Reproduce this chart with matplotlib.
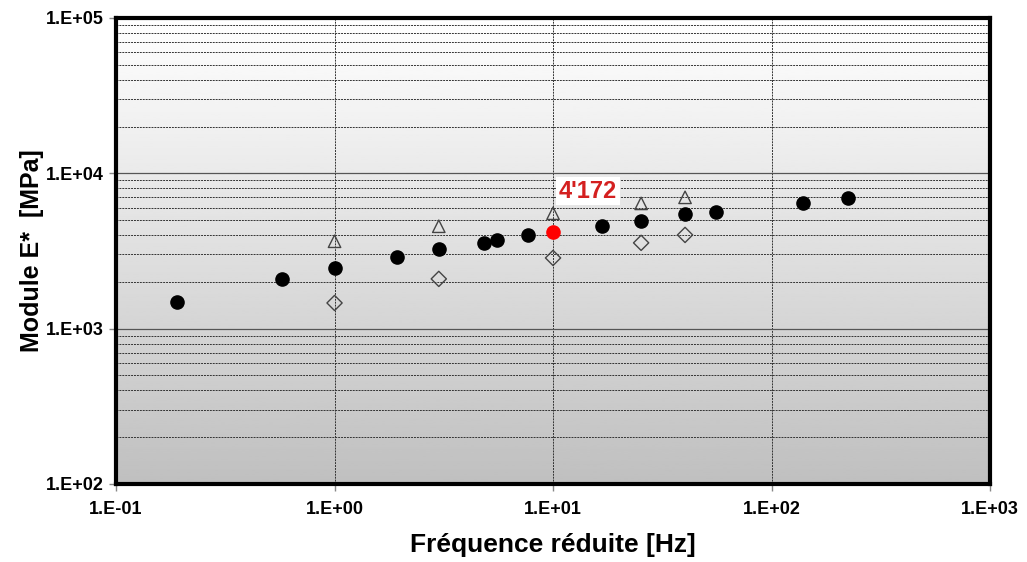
import numpy as np
import matplotlib.pyplot as plt
from matplotlib.ticker import LogLocator, FuncFormatter, NullFormatter

plt.rcParams['font.family'] = ['Liberation Sans', 'DejaVu Sans']

# data
freq_mes = [0.19, 0.575, 1.0, 1.93, 3.0, 4.83, 5.55, 7.69, 16.7, 25.3, 40.2, 55.7, 139, 224]
mod_mes = [1486, 2089, 2460, 2896, 3260, 3565, 3725, 4009, 4580, 4935, 5480, 5640, 6440, 6950]

freq_tri = [1.0, 3.0, 10.0, 25.3, 40.2]
mod_tri = [3650, 4560, 5530, 6400, 7000]

freq_dia = [1.0, 3.0, 10.0, 25.3, 40.2]
mod_dia = [1462, 2089, 2850, 3565, 4009]

freq_ref = 10.0
mod_ref = 4172


def fmt_e(v, pos):
    e = int(round(np.log10(v)))
    return "1.E%+03d" % e


fig = plt.figure(figsize=(10.27, 5.62), dpi=100)
ax = fig.add_axes([0.113, 0.139, 0.851, 0.829])
ax.set_xscale('log')
ax.set_yscale('log')
ax.set_xlim(0.1, 1000)
ax.set_ylim(100, 100000)

# fond en degrade blanc (haut) -> gris (bas)
grad = np.linspace(1.0, 0.75, 256).reshape(-1, 1)
ax.imshow(grad, cmap='gray', vmin=0, vmax=1, aspect='auto',
          extent=[0, 1, 0, 1], transform=ax.transAxes, zorder=0)

ax.yaxis.set_minor_locator(LogLocator(base=10, subs=np.arange(2, 10)))
ax.yaxis.set_minor_formatter(NullFormatter())
ax.xaxis.set_minor_locator(LogLocator(base=10, subs=[]))
ax.xaxis.set_major_formatter(FuncFormatter(fmt_e))
ax.yaxis.set_major_formatter(FuncFormatter(fmt_e))

ax.grid(which='major', axis='y', color='#555555', linestyle='-', linewidth=0.9, zorder=1)
ax.grid(which='minor', axis='y', color='#333333', linestyle=(0, (2, 1)), linewidth=0.7, zorder=1)
ax.grid(which='major', axis='x', color='#333333', linestyle=(0, (2, 1)), linewidth=0.7, zorder=1)
ax.set_axisbelow(True)

ax.scatter(freq_mes, mod_mes, s=90, color='black', zorder=3)
ax.scatter(freq_tri, mod_tri, s=80, marker='^', facecolor='none', edgecolor='#444444', linewidth=1.0, zorder=3)
ax.scatter(freq_dia, mod_dia, s=60, marker='D', facecolor='none', edgecolor='#444444', linewidth=1.0, zorder=3)
ax.scatter([freq_ref], [mod_ref], s=90, color='#ff0000', zorder=4)
ax.annotate("4'172", (freq_ref, mod_ref), xytext=(4, 25), textcoords='offset points',
            color='#d42020', fontsize=17, fontweight='bold',
            bbox=dict(facecolor='white', edgecolor='none', pad=2), zorder=5)

for s in ax.spines.values():
    s.set_linewidth(3)
    s.set_color('black')
ax.tick_params(which='major', direction='out', length=5, width=1, labelsize=13, color='#888888')
ax.tick_params(axis='x', which='major', pad=7)
ax.tick_params(which='minor', length=0)
for lab in ax.get_xticklabels() + ax.get_yticklabels():
    lab.set_fontweight('bold')

ax.set_xlabel('Fréquence réduite [Hz]', fontsize=19, fontweight='bold', labelpad=11)
ax.set_ylabel('Module E*  [MPa]', fontsize=18, fontweight='bold', labelpad=2)

fig.savefig('out.png', dpi=100)
